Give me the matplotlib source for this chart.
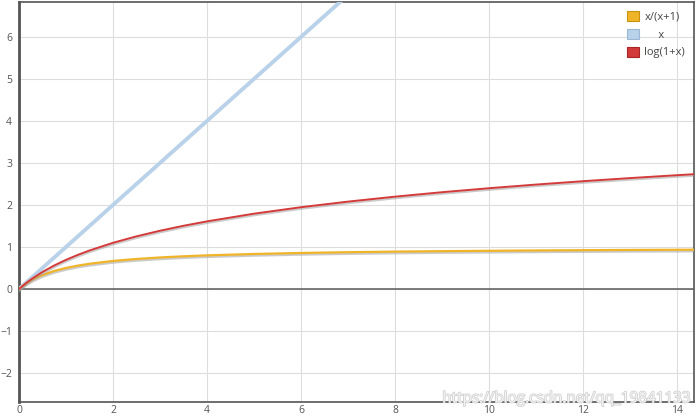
import matplotlib.pyplot as plt
import matplotlib.patheffects as pe
from matplotlib.patches import Patch

# values
xs = [0, 0.1, 0.2, 0.3, 0.5, 0.75, 1, 1.25, 1.5, 2, 2.5, 3, 3.5, 4, 5, 6, 7,
      8, 9, 10, 11, 12, 13, 14, 14.4]
ratio = [0, 0.091, 0.167, 0.231, 0.333, 0.429, 0.5, 0.556, 0.6, 0.667, 0.714,
         0.75, 0.778, 0.8, 0.833, 0.857, 0.875, 0.889, 0.9, 0.909, 0.917,
         0.923, 0.929, 0.933, 0.935]
logs = [0, 0.095, 0.182, 0.262, 0.405, 0.56, 0.693, 0.811, 0.916, 1.099, 1.253,
        1.386, 1.504, 1.609, 1.792, 1.946, 2.079, 2.197, 2.303, 2.398, 2.485,
        2.565, 2.639, 2.708, 2.734]
lin_x = [0, 7]
lin_y = [0, 7]

labels = ["x/(x+1)", "     x", "log(1+x)"]
colors = ["#f0b429", "#b9d2ea", "#d33a3a"]
edges = ["#c89410", "#9ab8d6", "#a82525"]

plt.rcParams['font.family'] = ['Open Sans', 'DejaVu Sans']

fig = plt.figure(figsize=(6.99, 4.18), dpi=100)
ax = fig.add_axes([19 / 699, 16 / 418, 675 / 699, 400 / 418])

shadow = [pe.SimpleLineShadow(offset=(0.3, -1.2), shadow_color='#999999', alpha=0.5),
          pe.Normal()]
ax.axhline(0, color='#666666', lw=1.2, zorder=2)
ax.plot(lin_x, lin_y, color=colors[1], lw=2.8, zorder=3, solid_capstyle='butt')
ax.plot(xs, ratio, color=colors[0], lw=1.6, zorder=4, path_effects=shadow)
ax.plot(xs, logs, color=colors[2], lw=1.4, zorder=5, path_effects=shadow)

ax.set_xlim(0, 14.36)
ax.set_ylim(-2.69, 6.83)
ax.set_xticks(range(0, 15, 2))
ax.set_yticks(range(-2, 7))
ax.grid(True, color='#dddddd', lw=0.8)
ax.set_axisbelow(True)
ax.tick_params(length=0, labelsize=7.5, labelcolor='#555555')
ax.tick_params(axis='x', pad=2)
ax.tick_params(axis='y', pad=5)
for s in ax.spines.values():
    s.set_color('#555555')
    s.set_linewidth(1.2)
ax.spines['left'].set_linewidth(2)

handles = [Patch(facecolor=c, edgecolor=e, lw=0.8) for c, e in zip(colors, edges)]
leg = ax.legend(handles, labels, loc='upper right', frameon=False, fontsize=8,
                handlelength=1.1, handleheight=1.0, handletextpad=0.5,
                labelspacing=0.55, borderaxespad=0.4)
for t in leg.get_texts():
    t.set_color('#444444')

fig.text(0.988, 19 / 418, "https://blog.csdn.net/qq_19841133", ha='right', va='center',
         fontsize=11, color='#f4f4f4', zorder=10,
         path_effects=[pe.withStroke(linewidth=1, foreground='#cccccc')])

fig.savefig("out.png", dpi=100)
